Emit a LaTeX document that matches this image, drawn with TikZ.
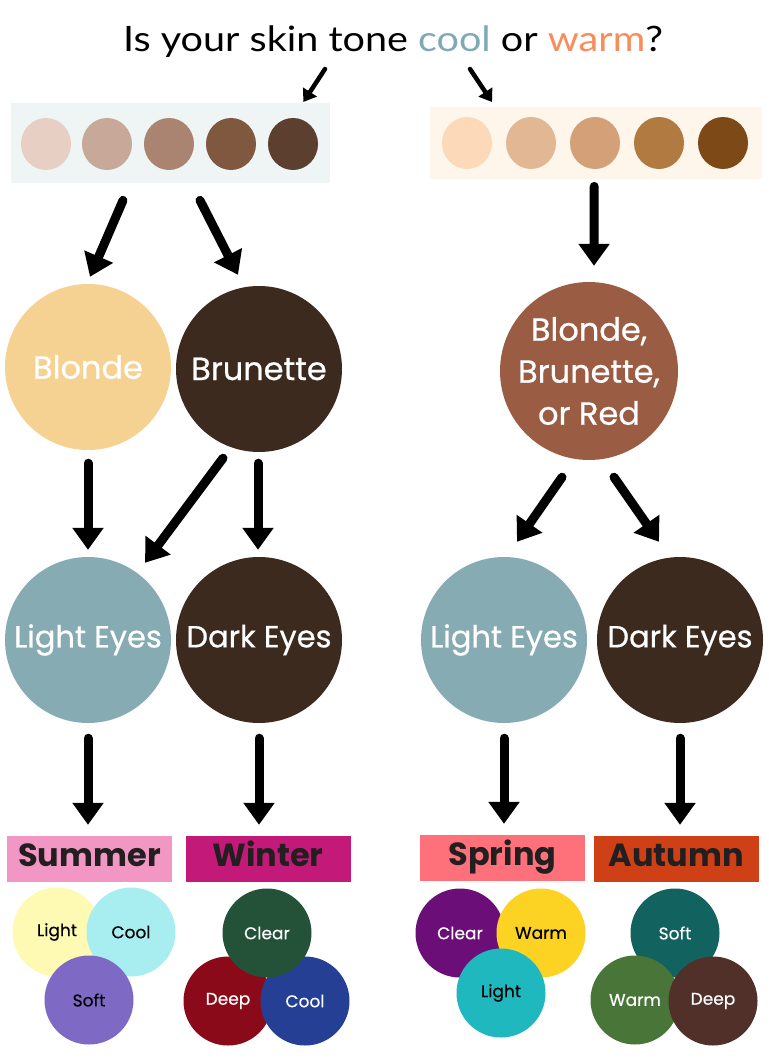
\documentclass[tikz,border=0pt]{standalone}
\usepackage{fontspec}
\setmainfont{Poppins}
\newfontfamily\titlefont{Lato}
\usetikzlibrary{arrows.meta,shapes.geometric,calc}
\definecolor{coolc}{HTML}{7FAAB5}
\definecolor{warmc}{HTML}{F98C5B}
\definecolor{coolbg}{HTML}{EFF5F5}
\definecolor{warmbg}{HTML}{FEF6EB}
\definecolor{cs1}{HTML}{E8CFC4}
\definecolor{cs2}{HTML}{C8A898}
\definecolor{cs3}{HTML}{AA8470}
\definecolor{cs4}{HTML}{80583F}
\definecolor{cs5}{HTML}{5C3F2F}
\definecolor{ws1}{HTML}{FCD9B8}
\definecolor{ws2}{HTML}{E2B894}
\definecolor{ws3}{HTML}{D4A078}
\definecolor{ws4}{HTML}{B07A40}
\definecolor{ws5}{HTML}{7D4A17}
\definecolor{blondec}{HTML}{F6D292}
\definecolor{brownc}{HTML}{3D2A1E}
\definecolor{bbrc}{HTML}{9B5C44}
\definecolor{eyec}{HTML}{86ABB3}
\definecolor{summerc}{HTML}{F296C3}
\definecolor{winterc}{HTML}{C31A79}
\definecolor{springc}{HTML}{FE717A}
\definecolor{autumnc}{HTML}{D04016}
\definecolor{labeltext}{HTML}{231F20}
\definecolor{suLight}{HTML}{FFFAB3}
\definecolor{suCool}{HTML}{A8EEF0}
\definecolor{suSoft}{HTML}{7E69C4}
\definecolor{wiClear}{HTML}{245239}
\definecolor{wiDeep}{HTML}{8B0A1A}
\definecolor{wiCool}{HTML}{243F94}
\definecolor{spClear}{HTML}{6B0E78}
\definecolor{spWarm}{HTML}{FDD323}
\definecolor{spLight}{HTML}{20B8BF}
\definecolor{auSoft}{HTML}{12625F}
\definecolor{auWarm}{HTML}{4A7538}
\definecolor{auDeep}{HTML}{51302A}
\begin{document}
\begin{tikzpicture}[x=1pt,y=-1pt,
  bigc/.style={circle, minimum size=166pt, inner sep=0pt, text=white, align=center, font=\fontsize{32}{42}\selectfont\addfontfeature{FakeBold=0.6}},
  eyec/.style={bigc, font=\fontsize{30.5}{42}\selectfont\addfontfeature{FakeBold=0.6}},
  smallc/.style={circle, minimum size=89pt, inner sep=0pt, font=\fontsize{17}{18}\selectfont\addfontfeature{FakeBold=0.4}},
  swatch/.style={ellipse, minimum width=50pt, minimum height=52pt, inner sep=0pt},
  season/.style={minimum width=165pt, minimum height=46pt, inner sep=0pt, text height=24pt, text depth=10pt, text=labeltext, font=\bfseries\fontsize{32}{36}\selectfont},
  arr/.style={line width=9pt, line cap=round, -{Triangle[width=30pt,length=22pt]}},
  thinarr/.style={line width=4.5pt, line cap=round, -{Triangle[width=16pt,length=12pt]}}
]
\useasboundingbox[fill=white] (0,0) rectangle (768,1064);
% title
\node[anchor=base, inner sep=0pt, xscale=1.13, transform shape, font=\titlefont\fontsize{35}{40}\selectfont] (title) at (393,52)
  {Is your skin tone \textcolor{coolc}{cool} or \textcolor{warmc}{warm}?};
% panels
\node[fill=coolbg, anchor=north west, minimum width=319pt, minimum height=80pt, inner sep=0pt] (coolpanel) at (11,103) {};
\node[fill=warmbg, anchor=north west, minimum width=332pt, minimum height=72pt, inner sep=0pt] (warmpanel) at (430,107) {};
\node[swatch, fill=cs1] (c1) at (46,144) {};
\node[swatch, fill=cs2] (c2) at (107,144) {};
\node[swatch, fill=cs3] (c3) at (169,144) {};
\node[swatch, fill=cs4] (c4) at (231,144) {};
\node[swatch, fill=cs5] (c5) at (293,144) {};
\node[swatch, fill=ws1] (w1) at (467,143) {};
\node[swatch, fill=ws2] (w2) at (531,143) {};
\node[swatch, fill=ws3] (w3) at (595,143) {};
\node[swatch, fill=ws4] (w4) at (659,143) {};
\node[swatch, fill=ws5] (w5) at (723,143) {};
% hair
\node[bigc, fill=blondec] (blonde) at (88,367) {Blonde};
\node[bigc, fill=brownc] (brunette) at (259,369) {Brunette};
\node[bigc, fill=bbrc] (bbr) at (589,371) {Blonde,\\Brunette,\\or Red};
% eyes
\node[eyec, fill=eyec] (lightL) at (88,640) {Light Eyes};
\node[eyec, fill=brownc] (darkL) at (259,640) {Dark Eyes};
\node[eyec, fill=eyec] (lightR) at (504,640) {Light Eyes};
\node[eyec, fill=brownc] (darkR) at (680,640) {Dark Eyes};
% seasons
\node[season, fill=summerc] (summer) at (89.5,859) {Summer};
\node[season, fill=winterc] (winter) at (268,859) {Winter};
\node[season, fill=springc] (spring) at (502.5,858) {Spring};
\node[season, fill=autumnc] (autumn) at (676,859) {Autumn};
% summer
\node[smallc, fill=suLight] (suL) at (57,932) {Light};
\node[smallc, fill=suCool] (suC) at (131,932) {Cool};
\node[smallc, fill=suSoft] (suS) at (89,1000) {Soft};
% winter
\node[smallc, fill=wiDeep, text=white] (wiD) at (228,1001) {Deep};
\node[smallc, fill=wiCool, text=white] (wiC) at (305,1001) {Cool};
\node[smallc, fill=wiClear, text=white] (wiCl) at (267,933) {Clear};
% spring
\node[smallc, fill=spClear, text=white] (spC) at (460,933) {Clear};
\node[smallc, fill=spWarm] (spW) at (541,933) {Warm};
\node[smallc, fill=spLight] (spL) at (501,993) {Light};
% autumn
\node[smallc, fill=auSoft, text=white] (auS) at (675,933) {Soft};
\node[smallc, fill=auWarm, text=white] (auW) at (635,1000) {Warm};
\node[smallc, fill=auDeep, text=white] (auD) at (713,1001) {Deep};
% arrows
\draw[thinarr] ($(title.base)+(-68,17)$) -- ($(coolpanel.north east)+(-27,-1)$);
\draw[thinarr] ($(title.base)+(77,17)$) -- ($(warmpanel.north west)+(62,-5)$);
\draw[arr] ($(coolpanel.south west)+(112,17)$) -- ($(blonde.north)+(2,-7)$);
\draw[arr] ($(coolpanel.south west)+(189,17)$) -- ($(brunette.north)+(-21,-11)$);
\draw[arr] ($(warmpanel.south)+(-2,7)$) -- ($(bbr.north)+(5,-16)$);
\draw[arr, shorten <=13pt, shorten >=7pt] (blonde.south) -- (lightL.north);
\draw[arr] ($(brunette.south)+(-36,6)$) -- ($(lightL.north)+(57,6)$);
\draw[arr] ($(brunette.south)+(-1,11)$) -- ($(darkL.north)+(-1,-7)$);
\draw[arr] ($(bbr.south)+(-27,17)$) -- ($(lightR.north)+(13,-15)$);
\draw[arr] ($(bbr.south)+(25,17)$) -- ($(darkR.north)+(-21,-15)$);
\draw[arr, shorten <=15pt, shorten >=11pt] (lightL.south) -- (lightL.south |- summer.north);
\draw[arr, shorten <=15pt, shorten >=11pt] (darkL.south) -- (darkL.south |- winter.north);
\draw[arr, shorten <=15pt, shorten >=11pt] (lightR.south) -- (lightR.south |- spring.north);
\draw[arr, shorten <=15pt, shorten >=11pt] (darkR.south) -- (darkR.south |- autumn.north);
\end{tikzpicture}
\end{document}
